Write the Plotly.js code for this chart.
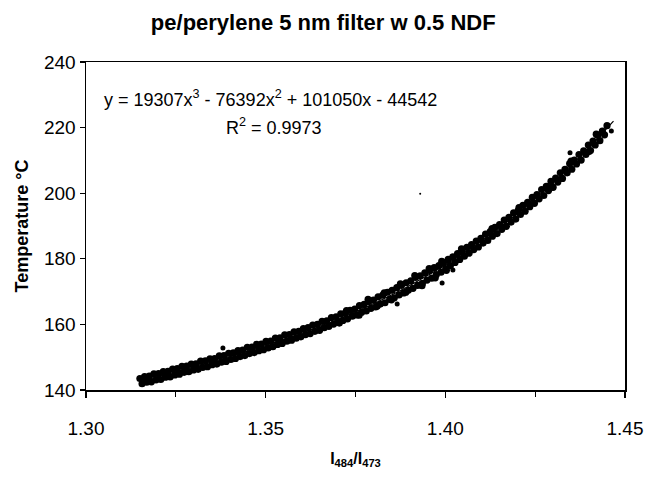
<!DOCTYPE html>
<html>
<head>
<meta charset="utf-8">
<script src="https://cdn.plot.ly/plotly-3.0.1.min.js"></script>
<style>
html,body{margin:0;padding:0;background:#fff;}
#chart{width:657px;height:478px;}
</style>
</head>
<body>
<div id="chart"></div>
<script>
// ---- data ----
const xUpper = [1.3150,1.3163,1.3176,1.3189,1.3202,1.3215,1.3228,1.3241,1.3254,1.3267,1.3280,1.3293,1.3306,1.3319,1.3332,1.3345,1.3358,1.3371,1.3384,1.3397,1.3410,1.3423,1.3436,1.3449,1.3462,1.3475,1.3488,1.3501,1.3514,1.3527,1.3540,1.3553,1.3566,1.3579,1.3592,1.3605,1.3618,1.3631,1.3644,1.3657,1.3670,1.3683,1.3696,1.3709,1.3722,1.3735,1.3748,1.3761,1.3774,1.3787,1.3800,1.3813,1.3826,1.3839,1.3852,1.3865,1.3878,1.3891,1.3904,1.3917,1.3930,1.3943,1.3956,1.3969,1.3982,1.3995,1.4008,1.4021,1.4034,1.4047,1.4060,1.4073,1.4086,1.4099,1.4112,1.4125,1.4138,1.4151,1.4164,1.4177,1.4190,1.4203,1.4216,1.4229,1.4242,1.4255,1.4268,1.4281,1.4294,1.4307,1.4320,1.4333,1.4346,1.4359,1.4372,1.4385,1.4398,1.4411,1.4424,1.4437,1.4450];
const yUpper = [143.5,144.1,144.2,144.9,145.0,145.6,145.7,146.4,146.5,147.2,147.3,147.9,148.0,148.8,148.9,149.5,149.6,150.4,150.5,151.2,151.3,152.0,152.2,153.0,153.1,153.9,154.0,154.8,154.9,155.8,155.9,156.8,156.9,157.7,157.9,158.7,159.0,159.8,160.0,160.9,161.1,162.1,162.3,163.2,163.5,164.3,164.7,165.7,166.1,167.0,167.4,168.4,168.9,169.8,170.4,171.2,171.9,172.7,173.3,174.3,174.8,175.7,176.4,177.3,177.9,178.9,179.8,180.6,181.6,182.3,183.5,184.3,185.4,186.2,187.5,188.3,189.6,190.4,191.8,192.6,194.0,194.8,196.3,197.2,198.7,199.6,201.1,202.1,203.6,204.6,206.2,207.3,209.0,210.1,211.8,212.9,214.7,215.9,217.7,218.9,220.6];
const xLower = [1.3156,1.3169,1.3182,1.3195,1.3208,1.3221,1.3234,1.3247,1.3260,1.3273,1.3286,1.3299,1.3312,1.3325,1.3338,1.3351,1.3364,1.3377,1.3390,1.3403,1.3416,1.3429,1.3442,1.3455,1.3468,1.3481,1.3494,1.3507,1.3520,1.3533,1.3546,1.3559,1.3572,1.3585,1.3598,1.3611,1.3624,1.3637,1.3650,1.3663,1.3676,1.3689,1.3702,1.3715,1.3728,1.3741,1.3754,1.3767,1.3780,1.3793,1.3806,1.3819,1.3832,1.3845,1.3858,1.3871,1.3884,1.3897,1.3910,1.3923,1.3936,1.3949,1.3962,1.3975,1.3988,1.4001,1.4014,1.4027,1.4040,1.4053,1.4066,1.4079,1.4092,1.4105,1.4118,1.4131,1.4144,1.4157,1.4170,1.4183,1.4196,1.4209,1.4222,1.4235,1.4248,1.4261,1.4274,1.4287,1.4300,1.4313,1.4326,1.4339,1.4352,1.4365,1.4378,1.4391,1.4404,1.4417,1.4430,1.4443];
const yLower = [141.9,142.4,142.5,143.1,143.2,143.9,144.0,144.6,144.8,145.4,145.6,146.1,146.3,146.9,147.1,147.7,147.9,148.5,148.7,149.3,149.6,150.2,150.5,151.1,151.4,152.0,152.3,152.8,153.2,153.9,154.2,154.9,155.2,155.8,156.2,156.9,157.2,157.9,158.2,159.0,159.4,160.1,160.6,161.2,161.7,162.5,162.9,163.7,164.1,164.9,165.3,166.2,166.6,167.6,168.1,169.0,169.6,170.4,171.0,171.9,172.5,173.5,174.1,175.2,175.9,177.0,177.9,178.9,179.8,180.8,181.7,182.8,183.6,184.8,185.6,186.9,187.7,189.0,189.9,191.2,192.1,193.5,194.5,195.9,196.9,198.3,199.3,200.8,201.8,203.4,204.5,206.2,207.3,208.9,210.1,211.8,213.0,214.7,216.0,217.8];
const xExtra = [1.3705,1.3725,1.3760,1.3785,1.3810,1.3830,1.3850,1.3875,1.3890,1.3915,1.3935,1.3955,1.3972,1.3990,1.4003,1.4045,1.4130,1.4205,1.4290,1.4350,1.4400,1.4420];
const yExtra = [160.4,164.2,162.8,167.6,165.5,169.6,167.5,172.4,169.8,174.9,171.8,177.0,174.2,179.2,176.5,183.0,189.2,195.6,201.5,209.8,212.7,218.0];
const xOutlier = [1.3381,1.3866,1.3991,1.4021,1.4347,1.4462];
const yOutlier = [152.8,166.2,172.6,176.6,212.3,219.0];
const xSpeck = [1.3930];
const ySpeck = [199.8];
const xFit = [1.315,1.320,1.325,1.330,1.335,1.340,1.345,1.350,1.355,1.360,1.365,1.370,1.375,1.380,1.385,1.390,1.395,1.400,1.405,1.410,1.415,1.420,1.425,1.430,1.435,1.440,1.445,1.4468];
const yFit = [142.55,144.1,145.55,147.06,148.58,150.15,151.83,153.56,155.4,157.31,159.36,161.5,163.85,166.28,168.97,171.77,174.9,178.1,181.7,185.39,189.5,193.7,198.4,203.16,208.5,213.95,219.85,222.0];
const xTickVals = [1.30,1.35,1.40,1.45];
const xTickText = ['1.30','1.35','1.40','1.45'];
const yTickVals = [140,160,180,200,220,240];
const chartTitle = 'pe/perylene 5 nm filter w 0.5 NDF';
const eqText = 'y = 19307x<sup>3</sup> - 76392x<sup>2</sup> + 101050x - 44542';
const r2Text = 'R<sup>2</sup> = 0.9973';

const ff = 'Arial, "Liberation Sans", sans-serif';
const mk = {color:'#000', size:7.2, line:{width:0}};

const traces = [
  {x:xUpper, y:yUpper, type:'scatter', mode:'markers', marker:mk, showlegend:false, hoverinfo:'skip'},
  {x:xLower, y:yLower, type:'scatter', mode:'markers', marker:mk, showlegend:false, hoverinfo:'skip'},
  {x:xExtra, y:yExtra, type:'scatter', mode:'markers', marker:mk, showlegend:false, hoverinfo:'skip'},
  {x:xOutlier, y:yOutlier, type:'scatter', mode:'markers', marker:{color:'#000', size:5}, showlegend:false, hoverinfo:'skip'},
  {x:xSpeck, y:ySpeck, type:'scatter', mode:'markers', marker:{color:'#000', size:2}, showlegend:false, hoverinfo:'skip'},
  {x:xFit, y:yFit, type:'scatter', mode:'lines', line:{color:'#000', width:1.2, shape:'spline'}, showlegend:false, hoverinfo:'skip'}
];

const layout = {
  width:657, height:478,
  paper_bgcolor:'#fff', plot_bgcolor:'#fff',
  margin:{l:86, r:32, t:62, b:88},
  font:{family:ff, color:'#000'},
  title:{text:'<b>'+chartTitle+'</b>', font:{family:ff, size:22, color:'#000'},
         x:0.492, xref:'container', xanchor:'center', y:1-22/478, yref:'container', yanchor:'middle'},
  xaxis:{
    range:[1.30,1.45], tickvals:xTickVals, ticktext:xTickText,
    ticks:'outside', ticklen:6, tickwidth:1.3, tickcolor:'#000',
    minor:{tickvals:[1.325,1.375,1.425], ticks:'outside', ticklen:5, tickwidth:1.3, tickcolor:'#000', showgrid:false},
    showline:true, linecolor:'#000', linewidth:1.5, mirror:true,
    showgrid:false, zeroline:false,
    tickfont:{family:ff, size:19, color:'#000'},
    ticklabelstandoff:15,
    title:{text:'<b>I<sub>484</sub>/I<sub>473</sub></b>', font:{family:ff, size:16, color:'#000'}, standoff:14}
  },
  yaxis:{
    range:[140,240], tickvals:yTickVals,
    ticks:'outside', ticklen:5, tickwidth:1.3, tickcolor:'#000',
    showline:true, linecolor:'#000', linewidth:1.5, mirror:true,
    showgrid:false, zeroline:false,
    tickfont:{family:ff, size:19, color:'#000'},
    title:{text:'<b>Temperature °C</b>', font:{family:ff, size:18, color:'#000'}, standoff:10}
  },
  annotations:[
    {text:eqText, xref:'paper', yref:'paper', x:0.343, y:0.89, xanchor:'center', yanchor:'middle', showarrow:false, font:{family:ff, size:18, color:'#000'}},
    {text:r2Text, xref:'paper', yref:'paper', x:0.348, y:0.802, xanchor:'center', yanchor:'middle', showarrow:false, font:{family:ff, size:18, color:'#000'}}
  ]
};

Plotly.newPlot('chart', traces, layout, {staticPlot:true, displayModeBar:false});
</script>
</body>
</html>
